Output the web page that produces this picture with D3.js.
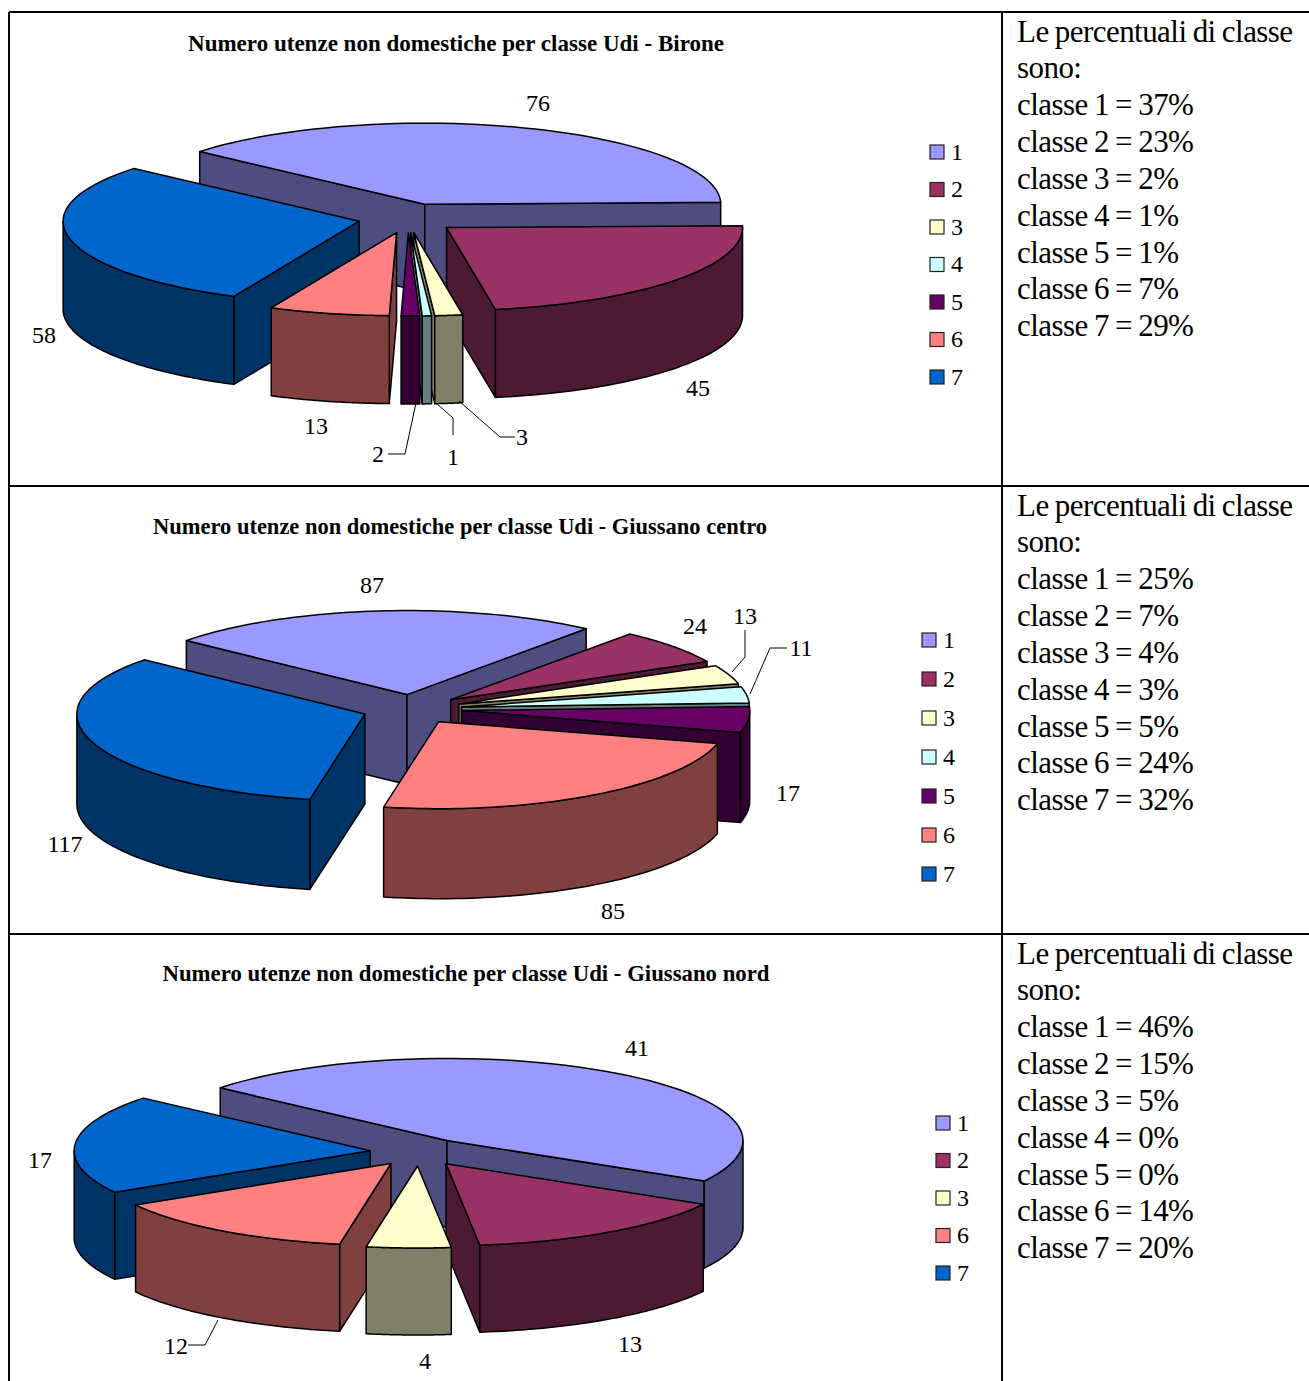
<!DOCTYPE html>
<html>
<head>
<meta charset="utf-8">
<script src="https://d3js.org/d3.v7.min.js"></script>
<style>
  body { margin: 0; background: #fff; }
  text { font-family: "Liberation Serif", serif; fill: #000; }
</style>
</head>
<body>
<script>
// values
const classes = [1, 2, 3, 4, 5, 6, 7];
const classesNord = [1, 2, 3, 6, 7];

const valuesBirone = [76, 45, 3, 1, 2, 13, 58];
const valuesCentro = [87, 24, 13, 11, 17, 85, 117];
const valuesNord = [41, 13, 4, 12, 17];

const percentBirone = [37, 23, 2, 1, 1, 7, 29];
const percentCentro = [25, 7, 4, 3, 5, 24, 32];
const percentNord = [46, 15, 5, 0, 0, 14, 20];

const titleBirone = "Numero utenze non domestiche per classe Udi - Birone";
const titleCentro = "Numero utenze non domestiche per classe Udi - Giussano centro";
const titleNord = "Numero utenze non domestiche per classe Udi - Giussano nord";

const topColors = ["#9999ff", "#993366", "#ffffcc", "#ccffff", "#660066", "#ff8080", "#0066cc"];
const wallColors = ["#4d4d80", "#4d1a33", "#808066", "#668080", "#330033", "#804040", "#003366"];

// layout of each panel, nothing here is data
const panels = [
  {
    title: titleBirone, titleX: 456, titleY: 50.5, titleW: 536,
    classes: classes, values: valuesBirone, percent: percentBirone,
    first: -49.5, cx: 408, cy: 218, rx: 296, ryBack: 81, ryFront: 83, depth: 88, ex: 50, ey: 15,
    legendX: 930, legendY: [152, 377], textY: 41.5,
    labels: [[538, 103], [698, 388], [522, 437], [453, 457], [378, 454], [316, 426], [44, 335]],
    leaders: [[[459, 401], [500, 437], [515, 437]], [[436, 403], [453, 418], [453, 435]], [[416, 403], [405, 454], [388, 454]]]
  },
  {
    title: titleCentro, titleX: 460, titleY: 533.5, titleW: 614,
    classes: classes, values: valuesCentro, percent: percentCentro,
    first: -50, cx: 412, cy: 709, rx: 288, ryBack: 84, ryFront: 87, depth: 90, ex: 50, ey: 15,
    legendX: 922, legendY: [640, 874], textY: 515.5,
    labels: [[372, 585], [695, 626], [745, 616], [801, 648], [788, 793], [613, 911], [65, 844]],
    leaders: [[[732, 672], [745, 657], [745, 630]], [[750, 694], [770, 648], [787, 648]]]
  },
  {
    title: titleNord, titleX: 466, titleY: 980.5, titleW: 607,
    classes: classesNord, values: valuesNord, percent: percentNord,
    first: -50, cx: 419, cy: 1152, rx: 296, ryBack: 82, ryFront: 82, depth: 87, ex: 49, ey: 14,
    legendX: 936, legendY: [1123, 1273], textY: 963.5,
    labels: [[637, 1048], [630, 1344], [425, 1361], [176, 1346], [40, 1160]],
    leaders: [[[218, 1320], [205, 1345], [188, 1345]]]
  }
];

const svg = d3.select("body").append("svg")
    .attr("width", 1309)
    .attr("height", 1381)
    .style("display", "block");

const topColor = d3.scaleOrdinal().domain(classes).range(topColors);
const wallColor = d3.scaleOrdinal().domain(classes).range(wallColors);
const line = d3.line();

// table lines
const rules = [[9, 12, 1309, 12], [9, 486, 1309, 486], [9, 934, 1309, 934], [9, 12, 9, 1381], [1002, 12, 1002, 1381]];
svg.selectAll("line.rule").data(rules).join("line")
    .attr("class", "rule")
    .attr("x1", d => d[0]).attr("y1", d => d[1])
    .attr("x2", d => d[2]).attr("y2", d => d[3])
    .attr("stroke", "#000").attr("stroke-width", 2);

panels.forEach(drawPanel);

function drawPanel(p) {
  const g = svg.append("g");

  g.append("text")
      .attr("x", p.titleX).attr("y", p.titleY)
      .attr("text-anchor", "middle")
      .attr("font-size", 23).attr("font-weight", "bold")
      .attr("textLength", p.titleW).attr("lengthAdjust", "spacingAndGlyphs")
      .text(p.title);

  // unit disc to pixels
  const sx = d3.scaleLinear().domain([-1, 1]).range([p.cx - p.rx, p.cx + p.rx]);
  const sy = d3.scaleLinear().domain([-1, 0, 1]).range([p.cy - p.ryBack, p.cy, p.cy + p.ryFront]);
  const ux = p.ex / p.rx, uy = p.ey / p.ryFront;

  const pie = d3.pie().sort(null)
      .startAngle(p.first * Math.PI / 180)
      .endAngle((p.first + 360) * Math.PI / 180);

  const slices = pie(p.values).map((s, i) => {
    s.cls = p.classes[i];
    s.mid = (s.startAngle + s.endAngle) / 2;
    return s;
  });

  // back slices first
  slices.slice().sort((a, b) => Math.cos(b.mid) - Math.cos(a.mid)).forEach(s => {
    const dx = ux * Math.sin(s.mid), dy = -uy * Math.cos(s.mid);
    const pt = (a, r, down) => [sx(dx + r * Math.sin(a)), sy(dy - r * Math.cos(a)) + (down ? p.depth : 0)];
    const arcPts = (a0, a1, down) => d3.range(0, 61).map(k => pt(a0 + (a1 - a0) * k / 60, 1, down));
    const face = (pts, fill) => g.append("path")
        .attr("d", line(pts) + "Z")
        .attr("fill", fill)
        .attr("stroke", "#000").attr("stroke-width", 1.5).attr("stroke-linejoin", "round");

    const wall = (a) => face([pt(a, 0), pt(a, 1), pt(a, 1, true), pt(a, 0, true)], wallColor(s.cls));
    if (Math.sin(s.startAngle) < 0) wall(s.startAngle);
    if (Math.sin(s.endAngle) > 0) wall(s.endAngle);

    // rim only shows on the front half
    const from = Math.max(s.startAngle, Math.PI / 2);
    const to = Math.min(s.endAngle, 3 * Math.PI / 2);
    if (to > from) face(arcPts(from, to, false).concat(arcPts(to, from, true)), wallColor(s.cls));

    face([pt(0, 0)].concat(arcPts(s.startAngle, s.endAngle, false)), topColor(s.cls));
  });

  // data labels
  g.selectAll("text.label").data(p.values).join("text")
      .attr("class", "label")
      .attr("x", (d, i) => p.labels[i][0])
      .attr("y", (d, i) => p.labels[i][1] + 7.5)
      .attr("text-anchor", "middle")
      .attr("font-size", 24)
      .text(d => d);

  g.selectAll("path.leader").data(p.leaders).join("path")
      .attr("class", "leader")
      .attr("d", d => line(d))
      .attr("fill", "none").attr("stroke", "#000").attr("stroke-width", 1);

  // legend
  const ly = d3.scalePoint().domain(p.classes).range(p.legendY);
  const items = g.selectAll("g.item").data(p.classes).join("g")
      .attr("class", "item")
      .attr("transform", d => "translate(" + p.legendX + "," + ly(d) + ")");
  items.append("rect")
      .attr("x", 0).attr("y", -7).attr("width", 14).attr("height", 14)
      .attr("fill", d => topColor(d))
      .attr("stroke", "#222").attr("stroke-width", 1.2);
  items.append("text")
      .attr("x", 21).attr("y", 7.5)
      .attr("font-size", 24)
      .text(d => d);

  // right column
  const textLines = ["Le percentuali di classe", "sono:"]
      .concat(p.percent.map((v, i) => "classe " + classes[i] + " = " + v + "%"));
  g.selectAll("text.note").data(textLines).join("text")
      .attr("class", "note")
      .attr("x", 1017)
      .attr("y", (d, i) => p.textY + i * 36.85)
      .attr("font-size", 31)
      .attr("letter-spacing", "-0.55px")
      .attr("word-spacing", "-1px")
      .text(d => d);
}
</script>
</body>
</html>
